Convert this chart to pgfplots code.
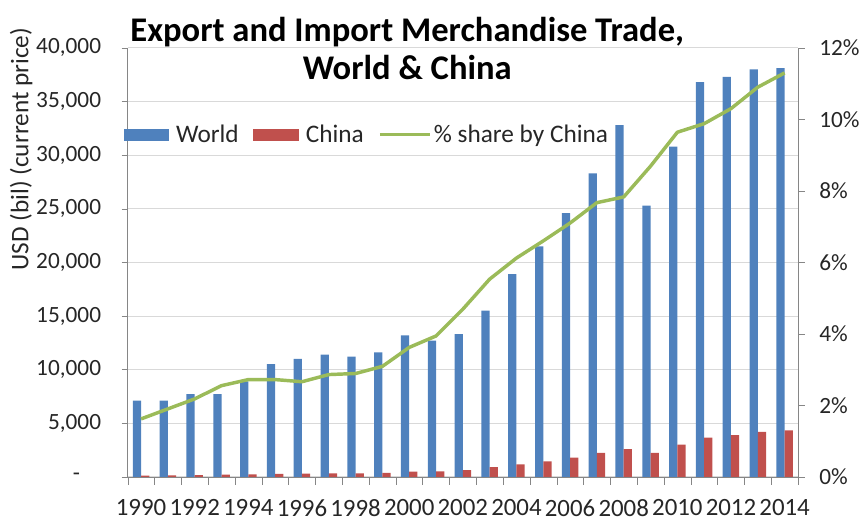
\documentclass[border=0pt]{standalone}
\usepackage{fontspec}
\setmainfont{Carlito}
\usepackage{pgfplots}
\usepackage{pgfplotstable}
\pgfplotsset{compat=1.18}
\definecolor{cworld}{HTML}{4F81BD}
\definecolor{cchina}{HTML}{C0504D}
\definecolor{cshare}{HTML}{9BBB59}
\definecolor{caxis}{HTML}{868686}
\definecolor{cgrid}{HTML}{D9D9D9}
\definecolor{ctext}{HTML}{262626}

\pgfplotstableread{
x world china share
0  7100  115 0.0162
1  7100  136 0.0190
2  7700  166 0.0218
3  7700  196 0.0255
4  8900  237 0.0272
5  10500 281 0.0272
6  11000 290 0.0266
7  11400 325 0.0286
8  11200 324 0.0289
9  11600 361 0.0309
10 13200 474 0.0362
11 12700 510 0.0394
12 13300 620 0.0469
13 15500 900 0.0553
14 18900 1155 0.0612
15 21500 1440 0.0660
16 24600 1790 0.0710
17 28300 2220 0.0767
18 32800 2580 0.0783
19 25300 2230 0.0869
20 30800 3000 0.0964
21 36800 3650 0.0988
22 37300 3880 0.1030
23 38000 4200 0.1090
24 38100 4320 0.1130
}\tradedata

\begin{document}
\begin{tikzpicture}[font=\fontsize{17.5}{20}\selectfont, text=ctext]
\begin{axis}[
  name=main,
  scale only axis, width=504pt, height=322.5pt,
  xmin=-0.5, xmax=24.5, ymin=0, ymax=40000,
  clip=false,
  scaled y ticks=false,
  axis x line*=bottom, axis y line*=left,
  axis line style={caxis, -},
  ybar=0pt, bar width=6.2pt,
  xtick={0,2,...,24},
  xticklabels={1990,1992,1994,1996,1998,2000,2002,2004,2006,2008,2010,2012,2014},
  major x tick style={draw=none},
  minor xtick={-0.5,0.5,...,24.5},
  minor x tick style={caxis},
  minor tick length=6pt,
  tick align=outside,
  ytick={0,5000,10000,15000,20000,25000,30000,35000,40000},
  yticklabels={{-\hspace*{0.9em}},{5,000},{10,000},{15,000},{20,000},{25,000},{30,000},{35,000},{40,000}},
  y tick style={caxis},
  major tick length=4.5pt,
  yticklabel style={xshift=-12pt},
  xticklabel style={yshift=-9pt, font=\fontsize{18.7}{21}\selectfont},
  ymajorgrids, grid style={cgrid, line width=0.6pt},
  legend style={draw=none, fill=none, legend columns=3,
    at={(rel axis cs:-0.0125,0.798)}, anchor=west,
    /tikz/every odd column/.append style={column sep=3pt},
    /tikz/every even column/.append style={column sep=9pt},
    font=\fontsize{19}{22}\selectfont},
]
\addplot[fill=cworld, draw=none,
  legend image code/.code={\fill[cworld] (0pt,-4.5pt) rectangle (34.5pt,4.5pt);}]
  table[x=x, y=world] {\tradedata};
\addlegendentry{World}
\addplot[fill=cchina, draw=none,
  legend image code/.code={\fill[cchina] (0pt,-4.5pt) rectangle (34.5pt,4.5pt);}]
  table[x=x, y=china] {\tradedata};
\addlegendentry{China}
\addlegendimage{cshare, line width=2.2pt,
  legend image code/.code={\draw[cshare, line width=2.2pt] (0pt,0pt) -- (34.5pt,0pt);
     \draw[cshare, line width=2.2pt, overlay] (34pt,0pt) -- (37.5pt,0pt);}}
\addlegendentry{\% share by China}
\node[font=\fontsize{26}{28.5}\selectfont\bfseries, align=center, text=black]
  at (rel axis cs:0.417,0.998) {Export and Import Merchandise Trade,\\World \& China};
\node[rotate=90, font=\fontsize{19}{21}\selectfont, anchor=center]
  at (rel axis cs:-0.159,0.764) {USD (bil) (current price)};
\end{axis}
\begin{axis}[
  scale only axis, width=504pt, height=322.5pt,
  xmin=-0.5, xmax=24.5, ymin=0, ymax=0.12,
  axis x line=none, axis y line*=right,
  axis line style={caxis, -},
  ytick={0,0.02,0.04,0.06,0.08,0.10,0.12},
  yticklabels={0\%,2\%,4\%,6\%,8\%,10\%,12\%},
  tick align=outside, major tick length=5pt,
  y tick style={caxis},
  yticklabel style={xshift=7.5pt},
]
\addplot[cshare, line width=2.6pt, line join=round, mark=none]
  table[x=x, y=share] {\tradedata};
\end{axis}
\path (main.south west) ++(-96pt,-30pt) coordinate (bbA);
\path (main.north east) ++(48pt,36pt) coordinate (bbB);
\path (bbA) rectangle (bbB);
\end{tikzpicture}
\end{document}
